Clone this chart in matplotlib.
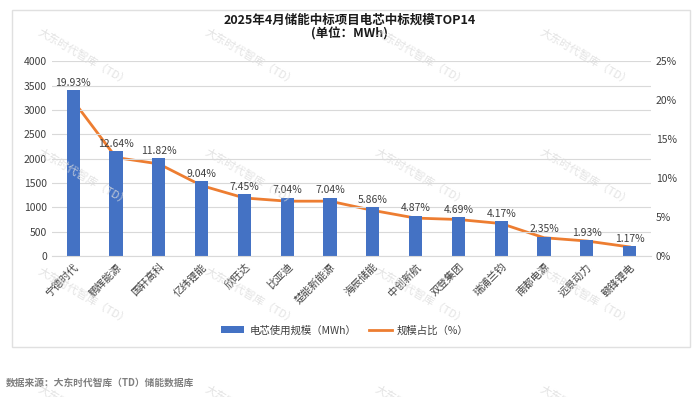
import numpy as np
import matplotlib
matplotlib.use('Agg')
import matplotlib.pyplot as plt
from matplotlib.patches import Rectangle

plt.rcParams['font.family'] = ['Noto Sans CJK SC', 'DejaVu Sans']

companies = ['宁德时代', '鹏辉能源', '国轩高科', '亿纬锂能', '欣旺达', '比亚迪', '楚能新能源',
             '海辰储能', '中创新航', '双登集团', '瑞浦兰钧', '南都电源', '远景动力', '赣锋锂电']
scale_mwh = [3400, 2156, 2017, 1542, 1271, 1201, 1201, 1000, 831, 800, 711, 401, 329, 200]
share_pct = [19.93, 12.64, 11.82, 9.04, 7.45, 7.04, 7.04, 5.86, 4.87, 4.69, 4.17, 2.35, 1.93, 1.17]

bar_color = '#4472C4'
line_color = '#ED7D31'
text_color = '#404040'
grid_color = '#d9d9d9'

fig = plt.figure(figsize=(7, 3.97), dpi=100)
ax = fig.add_axes([0.074, 0.355, 0.856, 0.491])
ax2 = ax.twinx()

x = np.arange(len(companies))
bars = ax.bar(x, scale_mwh, width=0.31, color=bar_color, zorder=2, label='电芯使用规模（MWh）')
line, = ax2.plot(x, np.array(share_pct) / 100, color=line_color, lw=2, zorder=3, label='规模占比（%）')

for xi, v, p in zip(x, scale_mwh, share_pct):
    ax.annotate(f'{p:.2f}%', (xi, v), xytext=(0, 1.5), textcoords='offset points',
                ha='center', va='bottom', fontsize=7.5, color=text_color, zorder=5)

ax.set_xlim(-0.5, len(companies) - 0.5)
ax.set_ylim(0, 4000)
ax.set_yticks(range(0, 4001, 500))
ax2.set_ylim(0, 0.25)
ax2.set_yticks([0, 0.05, 0.10, 0.15, 0.20, 0.25])
ax2.set_yticklabels(['0%', '5%', '10%', '15%', '20%', '25%'])

ax.grid(axis='y', color=grid_color, lw=0.8, zorder=0)
ax.set_axisbelow(True)
for a in (ax, ax2):
    for s in ['top', 'left', 'right']:
        a.spines[s].set_visible(False)
    a.spines['bottom'].set_color(grid_color)
    a.tick_params(length=0, labelsize=7.5, colors=text_color)
ax2.spines['bottom'].set_visible(False)

ax.set_xticks(x)
ax.set_xticklabels(companies, rotation=45, ha='right', rotation_mode='anchor', fontsize=7.5)
ax.tick_params(axis='x', pad=4)
ax.set_zorder(ax2.get_zorder() + 1)
ax.patch.set_visible(False)
ax2.set_zorder(0)

fig.text(0.5, 0.965, '2025年4月储能中标项目电芯中标规模TOP14\n(单位：MWh)', ha='center', va='top',
         fontsize=9, fontweight='bold', color='#1a1a1a', linespacing=1.05)

fig.legend(handles=[bars, line], loc='center', bbox_to_anchor=(0.493, 0.168), ncol=2,
           frameon=False, fontsize=7.5, handlelength=2.2, columnspacing=1.2,
           labelcolor=text_color, handletextpad=0.5)

# border around chart area
fig.patches.append(Rectangle((12 / 700, 1 - 347 / 397), 678 / 700, 337 / 397,
                             transform=fig.transFigure, fill=False, ec='#e0e0e0', lw=1))

fig.text(6 / 700, 1 - 383 / 397, '数据来源：大东时代智库（TD）储能数据库', ha='left', va='center',
         fontsize=7, fontweight='bold', color='#7f7f7f')

# watermarks
for ry in [57, 177, 296, 414]:
    for rx in [83, 250, 420, 585]:
        fig.text(rx / 700, 1 - ry / 397, '大东时代智库（TD）', rotation=-30, ha='center', va='center',
                 fontsize=8, color='#dcdcdc', alpha=0.8, zorder=10)

fig.savefig('out.png', dpi=100)
